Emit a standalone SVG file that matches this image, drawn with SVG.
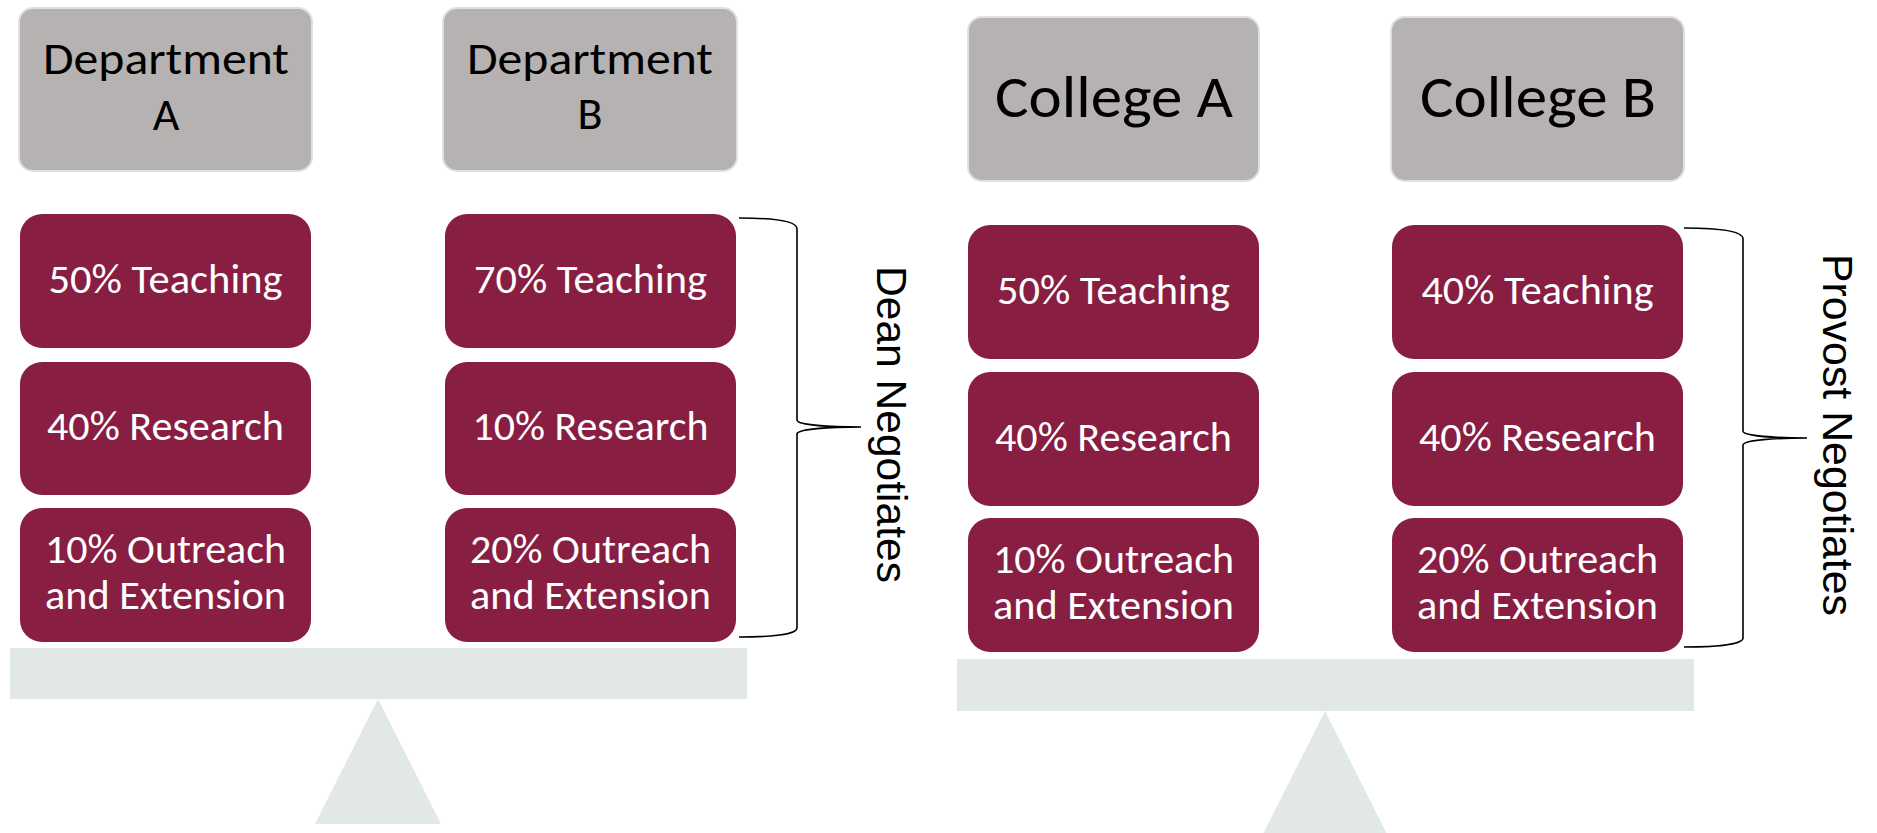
<svg xmlns="http://www.w3.org/2000/svg" width="1877" height="833" viewBox="0 0 1877 833">
<style>
.hdr{fill:#B6B2B1;stroke:#DDE1E1;stroke-width:2}
.box{fill:#881E41}
.base{fill:#E2E7E7}
.ht{font-family:Calibri,Carlito,Lato,"Liberation Sans",sans-serif;fill:#000;text-anchor:middle}
.bt{font-family:Calibri,Carlito,Lato,"Liberation Sans",sans-serif;fill:#FFF;text-anchor:middle;font-size:40px}
.neg{font-family:"Liberation Sans",Arial,sans-serif;font-size:43px;fill:#000;text-anchor:middle}
.brace{fill:none;stroke:#000;stroke-width:1.6}
</style>
<rect width="1877" height="833" fill="#FFFFFF"/>

<g id="scale-left">
  <rect class="base" x="10" y="648" width="737" height="51"/>
  <polygon class="base" points="378,699 441,824 315,824"/>
</g>
<g id="scale-right">
  <rect class="base" x="957" y="659" width="737" height="52"/>
  <polygon class="base" points="1325,711 1388,836 1262,836"/>
</g>

<g id="dept-a">
  <rect class="hdr" x="19" y="8" width="293" height="163" rx="14"/>
  <text class="ht" x="166" y="74" font-size="46" textLength="246" lengthAdjust="spacingAndGlyphs">Department</text>
  <text class="ht" x="166" y="130" font-size="46">A</text>
</g>
<g id="dept-b">
  <rect class="hdr" x="443" y="8" width="294" height="163" rx="14"/>
  <text class="ht" x="590" y="74" font-size="46" textLength="246" lengthAdjust="spacingAndGlyphs">Department</text>
  <text class="ht" x="590" y="129" font-size="46">B</text>
</g>
<g id="college-a">
  <rect class="hdr" x="968" y="17" width="291" height="164" rx="14"/>
  <text class="ht" x="1114" y="117" font-size="59" textLength="238" lengthAdjust="spacingAndGlyphs">College A</text>
</g>
<g id="college-b">
  <rect class="hdr" x="1391" y="17" width="293" height="164" rx="14"/>
  <text class="ht" x="1538" y="117" font-size="59" textLength="236" lengthAdjust="spacingAndGlyphs">College B</text>
</g>

<g id="dept-a-teaching">
  <rect class="box" x="20" y="214" width="291" height="134" rx="22"/>
  <text class="bt" x="165.5" y="293" textLength="234" lengthAdjust="spacingAndGlyphs">50% Teaching</text>
</g>
<g id="dept-a-research">
  <rect class="box" x="20" y="362" width="291" height="133" rx="22"/>
  <text class="bt" x="165.5" y="440" textLength="237" lengthAdjust="spacingAndGlyphs">40% Research</text>
</g>
<g id="dept-a-outreach">
  <rect class="box" x="20" y="508" width="291" height="134" rx="22"/>
  <text class="bt" x="165.5" y="563" textLength="241" lengthAdjust="spacingAndGlyphs">10% Outreach</text>
  <text class="bt" x="165.5" y="609" textLength="241" lengthAdjust="spacingAndGlyphs">and Extension</text>
</g>

<g id="dept-b-teaching">
  <rect class="box" x="445" y="214" width="291" height="134" rx="22"/>
  <text class="bt" x="590.5" y="293" textLength="233" lengthAdjust="spacingAndGlyphs">70% Teaching</text>
</g>
<g id="dept-b-research">
  <rect class="box" x="445" y="362" width="291" height="133" rx="22"/>
  <text class="bt" x="590.5" y="440" textLength="236" lengthAdjust="spacingAndGlyphs">10% Research</text>
</g>
<g id="dept-b-outreach">
  <rect class="box" x="445" y="508" width="291" height="134" rx="22"/>
  <text class="bt" x="590.5" y="563" textLength="241" lengthAdjust="spacingAndGlyphs">20% Outreach</text>
  <text class="bt" x="590.5" y="609" textLength="241" lengthAdjust="spacingAndGlyphs">and Extension</text>
</g>

<g id="college-a-teaching">
  <rect class="box" x="968" y="225" width="291" height="134" rx="22"/>
  <text class="bt" x="1113.5" y="304" textLength="233" lengthAdjust="spacingAndGlyphs">50% Teaching</text>
</g>
<g id="college-a-research">
  <rect class="box" x="968" y="372" width="291" height="134" rx="22"/>
  <text class="bt" x="1113.5" y="451" textLength="237" lengthAdjust="spacingAndGlyphs">40% Research</text>
</g>
<g id="college-a-outreach">
  <rect class="box" x="968" y="518" width="291" height="134" rx="22"/>
  <text class="bt" x="1113.5" y="573" textLength="241" lengthAdjust="spacingAndGlyphs">10% Outreach</text>
  <text class="bt" x="1113.5" y="619" textLength="241" lengthAdjust="spacingAndGlyphs">and Extension</text>
</g>

<g id="college-b-teaching">
  <rect class="box" x="1392" y="225" width="291" height="134" rx="22"/>
  <text class="bt" x="1537.5" y="304" textLength="232" lengthAdjust="spacingAndGlyphs">40% Teaching</text>
</g>
<g id="college-b-research">
  <rect class="box" x="1392" y="372" width="291" height="134" rx="22"/>
  <text class="bt" x="1537.5" y="451" textLength="237" lengthAdjust="spacingAndGlyphs">40% Research</text>
</g>
<g id="college-b-outreach">
  <rect class="box" x="1392" y="518" width="291" height="134" rx="22"/>
  <text class="bt" x="1537.5" y="573" textLength="241" lengthAdjust="spacingAndGlyphs">20% Outreach</text>
  <text class="bt" x="1537.5" y="619" textLength="241" lengthAdjust="spacingAndGlyphs">and Extension</text>
</g>

<g id="connectors">
  <path class="brace" d="M739,218 C775,218 797,221 797,229 L797,420 C797,425 830,427 861,427 C830,427 797,429 797,434 L797,628 C797,634 775,637 739,637"/>
  <path class="brace" d="M1684,228 C1720,228 1743,231 1743,239 L1743,431 C1743,436 1776,438 1807,438 C1776,438 1743,440 1743,445 L1743,638 C1743,644 1720,647 1684,647"/>
</g>

<g id="dean-label">
  <text class="neg" x="877" y="424.5" transform="rotate(90 877 424.5)" textLength="317" lengthAdjust="spacingAndGlyphs">Dean Negotiates</text>
</g>
<g id="provost-label">
  <text class="neg" x="1823" y="435" transform="rotate(90 1823 435)" textLength="362" lengthAdjust="spacingAndGlyphs">Provost Negotiates</text>
</g>
</svg>
